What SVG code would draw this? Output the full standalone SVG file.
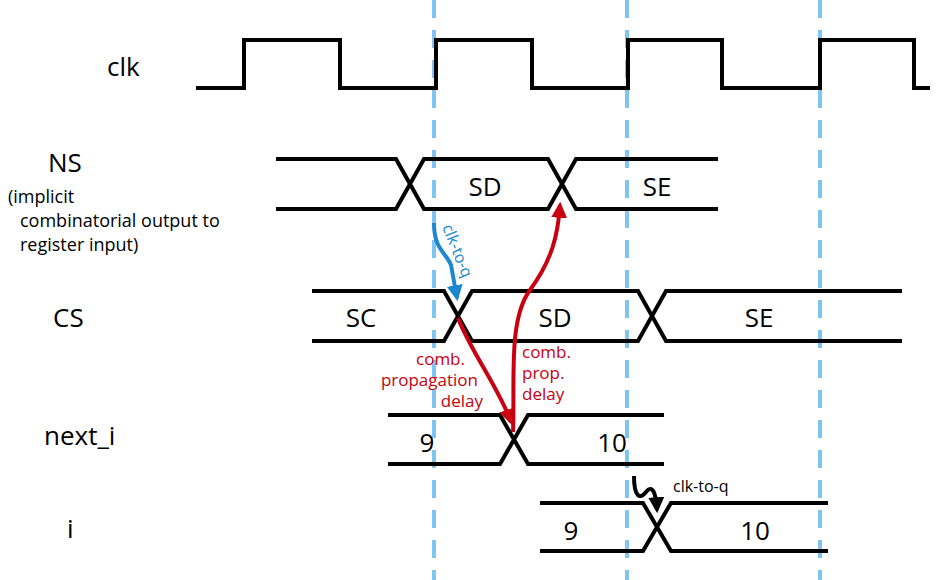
<svg xmlns="http://www.w3.org/2000/svg" width="941" height="580" viewBox="0 0 941 580">
<style>
.w{fill:none;stroke:#000;stroke-width:4;stroke-linejoin:miter}
.d{stroke:#80c4f4;stroke-width:4;stroke-dasharray:18,12}
text{font-family:"Open Sans","DejaVu Sans",sans-serif;fill:#000}
.lb{font-size:26px}
.v{font-size:26px;text-anchor:middle}
.s{font-size:18px}
.r{font-size:17px;fill:#c80010}
</style>
<defs>
<marker id="ar" viewBox="0 0 10 10" refX="8" refY="5" markerWidth="4" markerHeight="4" orient="auto"><path d="M0,0L10,5L0,10z" fill="#c80010"/></marker>
<marker id="ab" viewBox="0 0 10 10" refX="8" refY="5" markerWidth="4" markerHeight="4" orient="auto"><path d="M0,0L10,5L0,10z" fill="#1a87d0"/></marker>
<marker id="ak" viewBox="0 0 10 10" refX="8" refY="5" markerWidth="4" markerHeight="4" orient="auto"><path d="M0,0L10,5L0,10z" fill="#000"/></marker>
</defs>
<g id="grid">
<line class="d" x1="434" y1="0" x2="434" y2="580"/>
<line class="d" x1="627" y1="0" x2="627" y2="580"/>
<line class="d" x1="820" y1="0" x2="820" y2="580"/>
</g>
<g id="clk">
<text class="lb" x="107" y="76">clk</text>
<path class="w" d="M196,88H244V40H340V88H436V40H532V88H628V40H722V88H820V40H914V88H930"/>
</g>
<g id="NS">
<text class="lb" x="48" y="172">NS</text>
<text class="s" x="8" y="203">(implicit</text>
<text class="s" x="20" y="227">combinatorial output to</text>
<text class="s" x="20" y="251">register input)</text>
<path class="w" d="M276,159H396L424,209H548L576,159H718M276,209H396L424,159H548L576,209H718"/>
<text class="v" x="485" y="196">SD</text>
<text class="v" x="657" y="196">SE</text>
</g>
<g id="CS">
<text class="lb" x="53" y="327">CS</text>
<path class="w" d="M312,291H444L472,341H638L666,291H902M312,341H444L472,291H638L666,341H902"/>
<text class="v" x="361" y="327">SC</text>
<text class="v" x="555" y="327">SD</text>
<text class="v" x="759" y="327">SE</text>
</g>
<g id="next_i">
<text class="lb" x="44" y="445">next_i</text>
<path class="w" d="M388,415H500L528,464H664M388,464H500L528,415H664"/>
<text class="v" x="427" y="452">9</text>
<text class="v" x="612" y="452">10</text>
</g>
<g id="i">
<text class="lb" x="67" y="538">i</text>
<path class="w" d="M540,503H643L671,551H828M540,551H643L671,503H828"/>
<text class="v" x="571" y="540">9</text>
<text class="v" x="755" y="540">10</text>
</g>
<g id="connectors">
<path d="M434,223C434,250 446,252 451,265L457,298" fill="none" stroke="#1a87d0" stroke-width="4" marker-end="url(#ab)"/>
<text x="442" y="227" font-size="16" fill="#1a87d0" transform="rotate(68 442 227)" style="fill:#1a87d0">clk-to-q</text>
<path d="M458,318C470,350 500,390 511,422" fill="none" stroke="#c80010" stroke-width="4" marker-end="url(#ar)"/>
<path d="M513,432C515,380 508,320 530,290C552,260 558,235 560,205" fill="none" stroke="#c80010" stroke-width="4" marker-end="url(#ar)"/>
<text class="r" x="465" y="365" text-anchor="end">comb.</text>
<text class="r" x="478" y="386" text-anchor="end">propagation</text>
<text class="r" x="483" y="407" text-anchor="end">delay</text>
<text class="r" x="522" y="358">comb.</text>
<text class="r" x="522" y="379">prop.</text>
<text class="r" x="522" y="400">delay</text>
<path d="M634,476C634,497 640,500 646,492C652,484 656,492 657,510" fill="none" stroke="#000" stroke-width="4" marker-end="url(#ak)"/>
<text x="673" y="492" font-size="16">clk-to-q</text>
</g>
</svg>
